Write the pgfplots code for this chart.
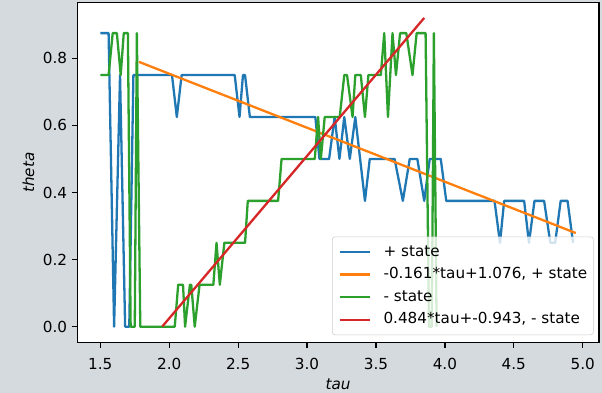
\documentclass[border=0pt]{standalone}
\usepackage{fontspec}
\setmainfont{DejaVu Sans}
\usepackage{pgfplots}
\pgfplotsset{compat=1.18}
\definecolor{bgc}{RGB}{213,218,223}
\definecolor{tabblue}{HTML}{1F77B4}
\definecolor{taborange}{HTML}{FF7F0E}
\definecolor{tabgreen}{HTML}{2CA02C}
\definecolor{tabred}{HTML}{D62728}
\begin{document}
\begin{tikzpicture}
\fill[bgc] (0,0) rectangle (433.44bp,282.96bp);
\begin{axis}[
  at={(55.66bp,36.22bp)}, anchor=south west,
  scale only axis, width=375.6bp, height=244.8bp,
  xmin=1.333, xmax=5.118, ymin=-0.0477, ymax=0.9657,
  axis background/.style={fill=white},
  axis line style={line width=0.88bp, black},
  tick align=outside, tick pos=left,
  major tick length=3.85bp,
  tick style={line width=0.88bp, black},
  xtick={1.5,2.0,2.5,3.0,3.5,4.0,4.5,5.0},
  xticklabels={1.5,2.0,2.5,3.0,3.5,4.0,4.5,5.0},
  ytick={0,0.2,0.4,0.6,0.8},
  yticklabels={0.0,0.2,0.4,0.6,0.8},
  ticklabel style={font=\fontsize{11}{13}\selectfont},
  xticklabel style={yshift=-3.8bp},
  label style={font=\fontsize{11}{13}\selectfont},
  xlabel={\textit{tau}}, ylabel={\textit{theta}},
  xlabel style={at={(axis description cs:0.5,-0.139)}, anchor=base},
  ylabel style={at={(axis description cs:-0.0935,0.5)}, anchor=center},
  legend cell align=left,
  legend image code/.code={\draw[#1] (0bp,0bp) -- (22bp,0bp);},
  legend style={at={(rel axis cs:1,0)}, anchor=south east, xshift=-3.8bp, yshift=5.5bp,
    draw=black!20, rounded corners=2bp, fill=white, fill opacity=0.8, text opacity=1,
    font=\fontsize{11}{13}\selectfont, inner xsep=4.4bp, inner ysep=5.6bp, row sep=5.9bp,
    nodes={inner sep=0pt, text height=8.2bp, text depth=2.2bp},
    /tikz/every odd column/.style={column sep=8.8bp}},
  every axis plot/.append style={line width=1.65bp, line join=round},
]
\addplot[tabblue] coordinates {
(1.50,0.875) (1.56,0.875) (1.60,0) (1.643,0.75) (1.68,0) (1.71,0) (1.74,0.75)
(2.02,0.75) (2.055,0.625) (2.09,0.75)
(2.475,0.75) (2.51,0.625) (2.535,0.75) (2.55,0.75) (2.585,0.625)
(3.06,0.625) (3.09,0.5) (3.16,0.5) (3.20,0.625) (3.235,0.5) (3.27,0.625) (3.31,0.5)
(3.35,0.625) (3.385,0.5) (3.42,0.375) (3.455,0.5)
(3.635,0.5) (3.695,0.375) (3.745,0.5) (3.80,0.5) (3.85,0.375) (3.89,0.5)
(3.97,0.5) (4.01,0.375)
(4.36,0.375) (4.40,0.25) (4.43,0.375) (4.575,0.375) (4.61,0.25) (4.65,0.375)
(4.72,0.375) (4.765,0.25) (4.80,0.25) (4.84,0.375) (4.89,0.375) (4.93,0.25)
};
\addlegendentry{+ state}
\addplot[taborange] coordinates {(1.78,0.7894) (4.95,0.2791)};
\addlegendentry{-0.161*tau+1.076, + state}
\addplot[tabgreen] coordinates {
(1.50,0.75) (1.56,0.75) (1.59,0.875) (1.62,0.875) (1.648,0.75) (1.67,0.875) (1.70,0.875)
(1.72,0) (1.75,0) (1.765,0.875) (1.79,0)
(2.04,0) (2.065,0.125) (2.10,0.125) (2.115,0) (2.15,0.125) (2.16,0.125) (2.185,0)
(2.22,0.125) (2.32,0.125) (2.343,0.25) (2.367,0.125) (2.40,0.25) (2.55,0.25)
(2.57,0.375) (2.79,0.375) (2.815,0.5) (3.056,0.5) (3.08,0.625) (3.10,0.5)
(3.128,0.625) (3.237,0.625) (3.27,0.75) (3.29,0.75) (3.33,0.625) (3.35,0.75)
(3.39,0.75) (3.42,0.625) (3.445,0.75) (3.535,0.75) (3.56,0.875) (3.587,0.625)
(3.62,0.875) (3.645,0.75) (3.675,0.875) (3.72,0.875) (3.765,0.75) (3.795,0.875)
(3.86,0.875) (3.885,0) (3.905,0) (3.92,0.875) (3.94,0)
};
\addlegendentry{- state}
\addplot[tabred] coordinates {(1.95,0.0008) (3.85,0.9204)};
\addlegendentry{0.484*tau+-0.943, - state}
\end{axis}
\pgfresetboundingbox
\useasboundingbox (0,0) rectangle (433.44bp,282.96bp);
\end{tikzpicture}
\end{document}
